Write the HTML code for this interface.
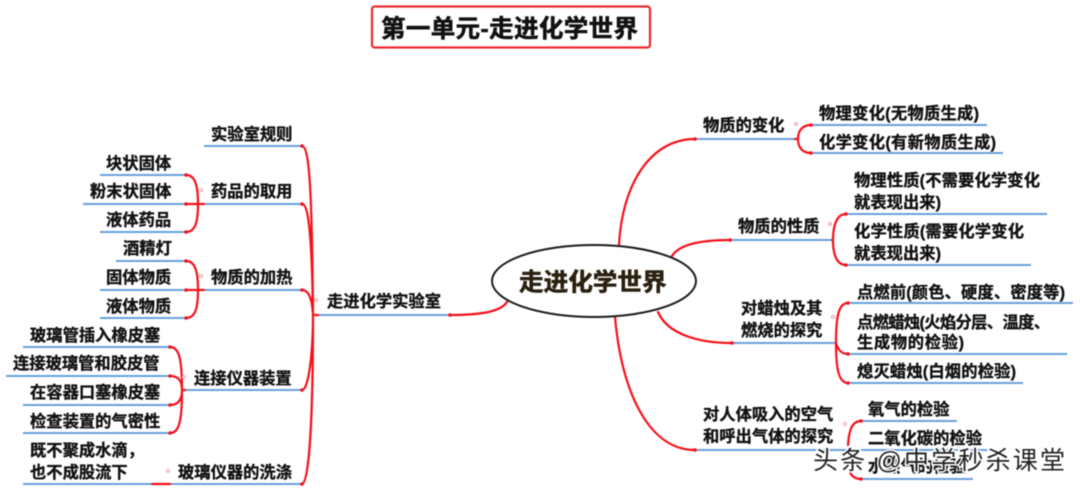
<!DOCTYPE html>
<html><head><meta charset="utf-8"><style>
html,body{margin:0;padding:0;background:#fff;width:1080px;height:490px;overflow:hidden}
svg{display:block;filter:blur(.4px)}
text{font-family:"Liberation Sans","Noto Sans CJK SC",sans-serif;font-weight:700;font-size:16.3px;fill:#111;stroke:#111;stroke-width:.35}
.b{stroke:#6a9fdc;stroke-width:2;fill:none}
.r{stroke:#f5101a;stroke-width:2.2;fill:none;stroke-linecap:round}
.d{fill:#fff;stroke:#e8a6ac;stroke-width:1.1}
.j{fill:#f5101a}
</style></head><body>
<svg width="1080" height="490" viewBox="0 0 1080 490" xmlns="http://www.w3.org/2000/svg">
<rect x="372" y="6.500" width="278" height="41" rx="2.500" fill="#fff" stroke="#ea2a30" stroke-width="2.200"/>
<text x="381" y="37" style="font-size:24.5px;stroke-width:.6" textLength="257">第一单元-走进化学世界</text>

<g class="b">
<path d="M204 146H302M100 175H186M83 204H302M100 232H186M116 261H186M100 290H302M100 318H186"/>
<path d="M23 347H170M6 376H170M23 405H170M23 433H170M185 390H302M23 484H302M315 315H450"/>
<path d="M695 139H795M811 125H987M811 153H1003M730 240H832M846 214H1047M846 265H1031"/>
<path d="M732 343H835M848 303H1073M848 354H1067M848 383H1023M695 450H990M861 421H957M861 479H973"/>
</g>

<g class="r">
<path d="M302 146C310 146 312 200 313 315M302 204C309 204 312 240 313 315M302 290C307 290 312 295 313 315M302 390C309 390 313 350 313 315M302 484C309 484 313 420 313 315"/>
<path d="M186 175C195 175 198 185 198 204C198 223 195 232 186 232M186 204H204"/>
<path d="M186 261C195 261 198 271 198 290C198 309 195 318 186 318M186 290H204"/>
<path d="M170 347C178 347 182 355 182 390M170 376C178 376 182 380 182 390M170 405C178 405 182 400 182 390M170 433C178 433 182 425 182 390M182 390H185"/>
<path d="M152 484H170"/>
<path d="M313 315H318"/>
<path d="M507 302C500 313 475 315 450 315"/>
<path d="M619 245C622 185 650 139 695 139"/>
<path d="M672 256C680 243 705 240 730 240"/>
<path d="M658 312C668 335 700 343 732 343"/>
<path d="M615 317C622 395 650 450 695 450"/>
<path d="M811 125C802 125 798 131 798 139C798 147 802 153 811 153M795 139H798"/>
<path d="M846 214C837 214 833 225 833 240C833 255 837 265 846 265M832 240H833"/>
<path d="M848 303C839 303 836 315 836 343C836 370 839 383 848 383M836 343C838 350 842 354 848 354"/>
<path d="M848 445C849 430 852 421 861 421M849 470C851 476 855 479 861 479"/>
</g>

<g class="j">
<circle cx="302" cy="146" r="1.800"/><circle cx="302" cy="204" r="1.800"/><circle cx="302" cy="290" r="1.800"/><circle cx="302" cy="390" r="1.800"/><circle cx="302" cy="484" r="1.800"/>
<circle cx="186" cy="175" r="1.800"/><circle cx="186" cy="204" r="1.800"/><circle cx="186" cy="232" r="1.800"/><circle cx="186" cy="261" r="1.800"/><circle cx="186" cy="290" r="1.800"/><circle cx="186" cy="318" r="1.800"/>
<circle cx="170" cy="347" r="1.800"/><circle cx="170" cy="376" r="1.800"/><circle cx="170" cy="405" r="1.800"/><circle cx="170" cy="433" r="1.800"/>
<circle cx="450" cy="315" r="1.800"/><circle cx="695" cy="139" r="1.800"/><circle cx="730" cy="240" r="1.800"/><circle cx="732" cy="343" r="1.800"/><circle cx="695" cy="450" r="1.800"/>
<circle cx="811" cy="125" r="1.800"/><circle cx="811" cy="153" r="1.800"/><circle cx="846" cy="214" r="1.800"/><circle cx="846" cy="265" r="1.800"/><circle cx="848" cy="303" r="1.800"/><circle cx="848" cy="354" r="1.800"/><circle cx="848" cy="383" r="1.800"/><circle cx="861" cy="421" r="1.800"/><circle cx="861" cy="479" r="1.800"/>
</g>

<g class="d">
<circle cx="796" cy="124" r="1.500"/><circle cx="830" cy="224" r="1.500"/><circle cx="833" cy="317" r="1.500"/><circle cx="845" cy="424" r="1.500"/>
<circle cx="201" cy="190" r="1.500"/><circle cx="201" cy="276" r="1.500"/><circle cx="184" cy="377" r="1.500"/><circle cx="168" cy="471" r="1.500"/><circle cx="316" cy="300" r="1.500"/>
</g>

<ellipse cx="594" cy="281" rx="102" ry="36" fill="#fff" stroke="#1c1c1c" stroke-width="2"/>
<text x="519" y="290.500" style="font-size:24.6px;fill:#2a2010;stroke:#2a2010;stroke-width:.6">走进化学世界</text>

<text x="211" y="140">实验室规则</text>
<text x="106" y="169">块状固体</text>
<text x="90" y="197">粉末状固体</text>
<text x="211" y="197">药品的取用</text>
<text x="106" y="225.500">液体药品</text>
<text x="123" y="254">酒精灯</text>
<text x="106" y="283">固体物质</text>
<text x="211" y="283">物质的加热</text>
<text x="106" y="312">液体物质</text>
<text x="30" y="341">玻璃管插入橡皮塞</text>
<text x="13" y="369">连接玻璃管和胶皮管</text>
<text x="30" y="398">在容器口塞橡皮塞</text>
<text x="30" y="427">检查装置的气密性</text>
<text x="194" y="384">连接仪器装置</text>
<text x="30" y="456">既不聚成水滴，</text>
<text x="30" y="478">也不成股流下</text>
<text x="178" y="478">玻璃仪器的洗涤</text>
<text x="327" y="307">走进化学实验室</text>

<text x="703" y="131">物质的变化</text>
<text x="819" y="119" textLength="160">物理变化(无物质生成)</text>
<text x="819" y="148" textLength="177">化学变化(有新物质生成)</text>
<text x="738" y="232">物质的性质</text>
<text x="854" y="186" textLength="186">物理性质(不需要化学变化</text>
<text x="854" y="208" textLength="87">就表现出来)</text>
<text x="854" y="237" textLength="170">化学性质(需要化学变化</text>
<text x="854" y="259" textLength="87">就表现出来)</text>
<text x="741" y="314">对蜡烛及其</text>
<text x="741" y="336">燃烧的探究</text>
<text x="857" y="298" textLength="208">点燃前(颜色、硬度、密度等)</text>
<text x="857" y="328" textLength="193">点燃蜡烛(火焰分层、温度、</text>
<text x="857" y="348" textLength="107">生成物的检验)</text>
<text x="857" y="377" textLength="159">熄灭蜡烛(白烟的检验)</text>
<text x="703" y="420">对人体吸入的空气</text>
<text x="703" y="442">和呼出气体的探究</text>
<text x="868" y="415">氧气的检验</text>
<text x="868" y="444">二氧化碳的检验</text>
<text x="868" y="472">水蒸气的检验</text>

<text x="813" y="469" style="font-size:25px;font-weight:400;fill:#222;stroke:#fff;stroke-width:3;paint-order:stroke" textLength="252">头条 @中学秒杀课堂</text>
</svg>
</body></html>
